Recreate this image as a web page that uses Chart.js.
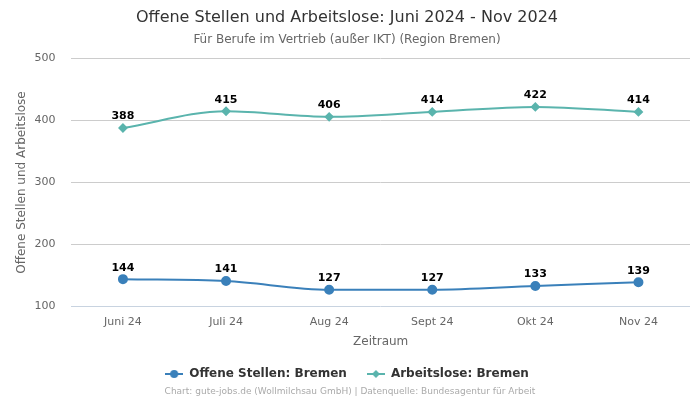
<!DOCTYPE html>
<html>
<head>
<meta charset="utf-8">
<script src="https://cdn.jsdelivr.net/npm/chart.js@4"></script>
<style>
  html, body { margin: 0; padding: 0; background: #fff; }
  #wrap { width: 700px; height: 400px; }
</style>
</head>
<body>
<div id="wrap"><canvas id="chart"></canvas></div>
<script>
const labels = ['Juni 24', 'Juli 24', 'Aug 24', 'Sept 24', 'Okt 24', 'Nov 24'];
const offeneStellen = [144, 141, 127, 127, 133, 139];
const arbeitslose = [388, 415, 406, 414, 422, 414];
const yTicks = [100, 200, 300, 400, 500];

const FONT = "'DejaVu Sans', sans-serif";
const BLUE = '#3a80ba';
const TEAL = '#5ab4ad';

// small line + marker icon for the legend
function legendIcon(color, shape) {
  const c = document.createElement('canvas');
  c.width = 18; c.height = 10;
  const g = c.getContext('2d');
  g.strokeStyle = color;
  g.fillStyle = color;
  g.lineWidth = 2;
  g.beginPath(); g.moveTo(0, 5); g.lineTo(18, 5); g.stroke();
  g.beginPath();
  if (shape === 'circle') {
    g.arc(9, 5, 4, 0, Math.PI * 2);
  } else {
    g.moveTo(9, 1); g.lineTo(13, 5); g.lineTo(9, 9); g.lineTo(5, 5); g.closePath();
  }
  g.fill();
  return c;
}
const icons = [legendIcon(BLUE, 'circle'), legendIcon(TEAL, 'diamond')];

// draws the value above each point
const valueLabels = {
  id: 'valueLabels',
  afterDatasetsDraw(chart) {
    const ctx = chart.ctx;
    ctx.save();
    ctx.font = 'bold 11px ' + FONT;
    ctx.fillStyle = '#000';
    ctx.textAlign = 'center';
    ctx.textBaseline = 'bottom';
    chart.data.datasets.forEach((ds, i) => {
      chart.getDatasetMeta(i).data.forEach((pt, j) => {
        ctx.fillText(ds.data[j], pt.x, pt.y - 6);
      });
    });
    ctx.restore();
  }
};

const footer = {
  id: 'footer',
  afterDraw(chart) {
    const ctx = chart.ctx;
    ctx.save();
    ctx.font = '9px ' + FONT;
    ctx.fillStyle = '#aaa';
    ctx.textAlign = 'center';
    ctx.textBaseline = 'middle';
    ctx.fillText('Chart: gute-jobs.de (Wollmilchsau GmbH) | Datenquelle: Bundesagentur für Arbeit', chart.width / 2, 392);
    ctx.restore();
  }
};

new Chart(document.getElementById('chart'), {
  type: 'line',
  data: {
    labels: labels,
    datasets: [
      {
        label: 'Offene Stellen: Bremen',
        data: offeneStellen,
        borderColor: BLUE,
        backgroundColor: BLUE,
        borderWidth: 2,
        pointStyle: 'circle',
        pointRadius: 4,
        cubicInterpolationMode: 'monotone'
      },
      {
        label: 'Arbeitslose: Bremen',
        data: arbeitslose,
        borderColor: TEAL,
        backgroundColor: TEAL,
        borderWidth: 2,
        pointStyle: 'rectRot',
        pointRadius: 3.5,
        cubicInterpolationMode: 'monotone'
      }
    ]
  },
  options: {
    responsive: true,
    maintainAspectRatio: false,
    animation: false,
    layout: { padding: { left: 4, right: 10, top: 6, bottom: 10 } },
    plugins: {
      title: {
        display: true,
        text: 'Offene Stellen und Arbeitslose: Juni 2024 - Nov 2024',
        color: '#333',
        font: { family: FONT, size: 16, weight: 'normal' },
        padding: { top: 2, bottom: 5 }
      },
      subtitle: {
        display: true,
        text: 'Für Berufe im Vertrieb (außer IKT) (Region Bremen)',
        color: '#666',
        font: { family: FONT, size: 12 },
        padding: { bottom: 12 }
      },
      legend: {
        position: 'bottom',
        labels: {
          usePointStyle: true,
          pointStyleWidth: 18,
          color: '#333',
          font: { family: FONT, size: 12, weight: 'bold' },
          padding: 20,
          generateLabels(chart) {
            return chart.data.datasets.map((ds, i) => ({
              text: ds.label,
              pointStyle: icons[i],
              fillStyle: ds.borderColor,
              strokeStyle: ds.borderColor,
              fontColor: '#333',
              lineWidth: 0,
              hidden: false,
              datasetIndex: i
            }));
          }
        }
      },
      tooltip: { enabled: false }
    },
    scales: {
      x: {
        offset: true,
        grid: { display: false, drawTicks: false },
        border: { display: false },
        ticks: { color: '#666', font: { family: FONT, size: 11 }, padding: 9 },
        title: { display: true, text: 'Zeitraum', color: '#666', font: { family: FONT, size: 12 }, padding: { top: -3, bottom: -1 } }
      },
      y: {
        min: 100,
        max: 500,
        afterBuildTicks(axis) { axis.ticks = yTicks.map(v => ({ value: v })); },
        grid: {
          color: ctx => (ctx.tick && ctx.tick.value === 100 ? '#c8d3e0' : '#cccccc'),
          drawTicks: false
        },
        border: { display: false },
        ticks: { color: '#666', font: { family: FONT, size: 11 }, padding: 16 },
        title: { display: true, text: 'Offene Stellen und Arbeitslose', color: '#666', font: { family: FONT, size: 12 }, padding: { top: 11, bottom: -11 } }
      }
    }
  },
  plugins: [valueLabels, footer]
});
</script>
</body>
</html>
